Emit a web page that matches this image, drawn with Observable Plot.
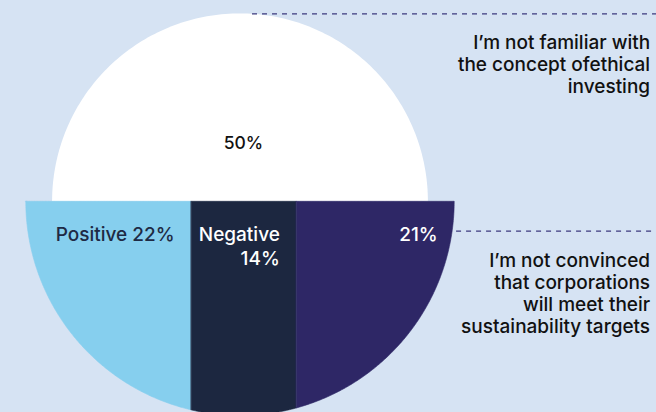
<!DOCTYPE html>
<html><head><meta charset="utf-8">
<script src="https://cdn.jsdelivr.net/npm/d3@7"></script>
<script src="https://cdn.jsdelivr.net/npm/@observablehq/plot@0.6"></script>
<style>
html,body{margin:0;padding:0;background:#d6e3f3;}
#chart svg{display:block;}
</style>
</head><body><div id="chart"></div>
<script>
// ---- data ----
const segments = ["Positive", "Negative", "Not convinced"];
const values = [22, 14, 21];
const segmentLabels = ["Positive 22%", "Negative\n14%", "21%"];
const topCategory = "Not familiar";
const topValue = 50;
const topLabel = "50%";
const annotationTop = "I’m not familiar with\nthe concept ofethical\ninvesting";
const annotationBottom = "I’m not convinced\nthat corporations\nwill meet their\nsustainability targets";
const segmentColors = ["#86cfee", "#1c2740", "#2e2766"];
const labelColors = ["#1e2a44", "#ffffff", "#ffffff"];

// ---- derived shapes (radius proportional to total value) ----
const R = d3.sum(values);
const N = 160;
const topPts = d3.range(N + 1).map(i => {
  const t = Math.PI * i / N;
  return {x: topValue * Math.cos(t), y: topValue * Math.sin(t)};
});
let cum = 0;
const segs = segments.map((s, i) => {
  const x0 = -R + 2 * cum;
  cum += values[i];
  const x1 = -R + 2 * cum;
  return {seg: s, x0, x1, label: segmentLabels[i], color: labelColors[i]};
});
const bottomPts = segs.flatMap(s => {
  const ta = 2 * Math.PI - Math.acos(Math.max(-1, Math.min(1, s.x0 / R)));
  const tb = 2 * Math.PI - Math.acos(Math.max(-1, Math.min(1, s.x1 / R)));
  return d3.range(N + 1).map(i => {
    const t = ta + (tb - ta) * i / N;
    return {seg: s.seg, x: R * Math.cos(t), y: R * Math.sin(t)};
  });
});

const fam = "Inter, 'Noto Sans', sans-serif";
const font = {fontFamily: fam, fontSize: 19, fontWeight: 500};

const chart = Plot.plot({
  width: 656,
  height: 412,
  margin: 0,
  style: {background: "#d6e3f3", overflow: "hidden"},
  x: {axis: null, domain: [-63.86, 110.7]},
  y: {axis: null, domain: [-56.07, 53.57]},
  color: {domain: segments, range: segmentColors},
  marks: [
    Plot.areaY(topPts, {x: "x", y1: 0, y2: "y", fill: "#ffffff"}),
    Plot.areaY(bottomPts, {x: "x", y1: 0, y2: "y", fill: "seg", z: "seg", stroke: "seg", strokeWidth: 0.6}),
    Plot.text([topLabel], {x: 0, y: 15.5, dx: 3, text: d => d, fill: "#111111", fontFamily: fam, fontSize: 17.5, fontWeight: 500}),
    Plot.text(segs, {x: "x1", y: -6.04, dx: -17, text: "label", fill: "color", textAnchor: "end", lineAnchor: "top", lineHeight: 1.25, ...font}),
    Plot.ruleY([topValue], {x1: 3.2, x2: 111, stroke: "#3c3a7e", strokeWidth: 1.3, strokeDasharray: "5,5"}),
    Plot.ruleY([-7.8], {x1: 57.5, x2: 111, stroke: "#3c3a7e", strokeWidth: 1.3, strokeDasharray: "5,5"}),
    Plot.text([annotationTop], {x: 109, y: 44.9, text: d => d, textAnchor: "end", lineAnchor: "top", lineHeight: 1.16, fill: "#111111", ...font}),
    Plot.text([annotationBottom], {x: 109, y: -13.1, text: d => d, textAnchor: "end", lineAnchor: "top", lineHeight: 1.16, fill: "#111111", ...font})
  ]
});
document.getElementById("chart").appendChild(chart);
</script>
</body></html>
